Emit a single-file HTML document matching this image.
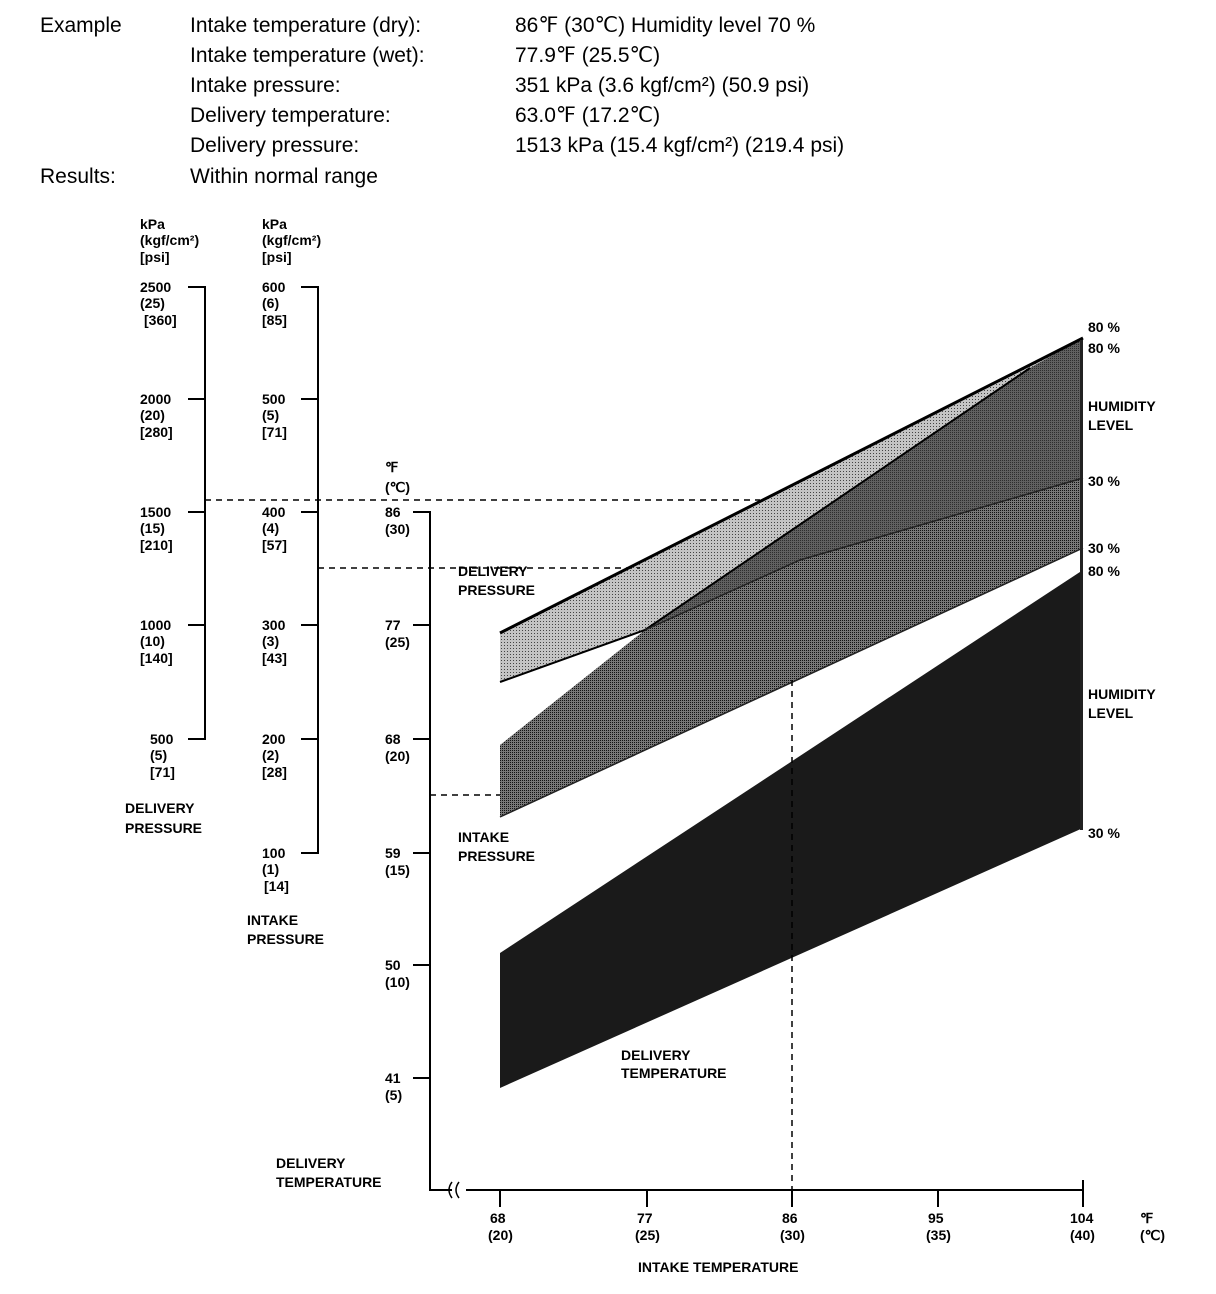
<!DOCTYPE html>
<html><head><meta charset="utf-8"><style>
html,body{margin:0;padding:0;background:#fff;}
body{width:1216px;height:1294px;position:relative;overflow:hidden;font-family:"Liberation Sans",Arial,sans-serif;}
svg{position:absolute;left:0;top:0;}
</style></head><body>
<svg width="1216" height="1294" viewBox="0 0 1216 1294" xmlns="http://www.w3.org/2000/svg" font-family="Liberation Sans, Arial, sans-serif">
<defs>
<pattern id="dots" width="3" height="3" patternUnits="userSpaceOnUse"><rect width="3" height="3" fill="#c4c4c4"/><rect width="1" height="1" fill="#444"/></pattern>
<pattern id="mid" width="2" height="2" patternUnits="userSpaceOnUse"><rect width="2" height="2" fill="#777"/><rect width="1" height="1" fill="#111"/></pattern>
</defs>
<g font-size="21" fill="#000">
<text x="40" y="32">Example</text>
<text x="190" y="32">Intake temperature (dry):</text><text x="515" y="32">86℉ (30℃) Humidity level 70 %</text>
<text x="190" y="62">Intake temperature (wet):</text><text x="515" y="62">77.9℉ (25.5℃)</text>
<text x="190" y="92">Intake pressure:</text><text x="515" y="92">351 kPa (3.6 kgf/cm²) (50.9 psi)</text>
<text x="190" y="122">Delivery temperature:</text><text x="515" y="122">63.0℉ (17.2℃)</text>
<text x="190" y="152">Delivery pressure:</text><text x="515" y="152">1513 kPa (15.4 kgf/cm²) (219.4 psi)</text>
<text x="40" y="183">Results:</text><text x="190" y="183">Within normal range</text>
</g>
<!-- bands -->
<polygon points="500,953 1083,570 1083,828 500,1088" fill="#1a1a1a"/>
<polygon points="500,633 1083,338 1030,368 645,630 500,682" fill="url(#dots)"/>
<polygon points="500,745 645,630 1030,368 1083,338 1083,548 500,817" fill="url(#mid)"/>
<polygon points="645,630 1030,368 1083,338 1083,478 800,560" fill="#4a4a4a" opacity="0.5"/>
<polyline points="500,633 1083,338" stroke="#000" stroke-width="3" fill="none"/>
<polyline points="500,682 645,630 1030,368" stroke="#000" stroke-width="2" fill="none"/>
<polyline points="645,630 800,560 1083,478" stroke="#222" stroke-width="1.5" fill="none"/>
<polyline points="500,817 1083,548" stroke="#222" stroke-width="1.5" fill="none"/>
<rect x="1080" y="340" width="3" height="490" fill="#222"/>
<!-- axes -->
<g stroke="#000" stroke-width="2" fill="none">
<path d="M188,287H205V739H188 M188,399H205 M188,512H205 M188,625H205"/>
<path d="M301,287H318V853H301 M301,399H318 M301,512H318 M301,625H318 M301,739H318"/>
<path d="M413,512H430V1190H452 M413,625H430 M413,739H430 M413,853H430 M413,965H430 M413,1078H430"/>
<path d="M466,1190H1083 M500,1190V1207 M647,1190V1207 M792,1190V1207 M938,1190V1207 M1083,1190V1207 M1083,1190V1180"/>
<path d="M452,1182q-6,8,0,16 M459,1182q-6,8,0,16" stroke-width="1.5"/>
</g>
<g stroke="#000" stroke-width="1.5" stroke-dasharray="6,5" fill="none">
<path d="M205,500H760"/><path d="M318,568H640"/><path d="M430,795H500"/><path d="M792,680V1190"/>
</g>
<g font-size="14" font-weight="bold" fill="#000">
<text x="140" y="229">kPa</text><text x="140" y="245">(kgf/cm²)</text><text x="140" y="262">[psi]</text>
<text x="262" y="229">kPa</text><text x="262" y="245">(kgf/cm²)</text><text x="262" y="262">[psi]</text>
<text x="140" y="292">2500</text><text x="140" y="308">(25)</text><text x="144" y="325">[360]</text>
<text x="140" y="404">2000</text><text x="140" y="420">(20)</text><text x="140" y="437">[280]</text>
<text x="140" y="517">1500</text><text x="140" y="533">(15)</text><text x="140" y="550">[210]</text>
<text x="140" y="630">1000</text><text x="140" y="646">(10)</text><text x="140" y="663">[140]</text>
<text x="150" y="744">500</text><text x="150" y="760">(5)</text><text x="150" y="777">[71]</text>
<text x="125" y="813">DELIVERY</text><text x="125" y="833">PRESSURE</text>
<text x="262" y="292">600</text><text x="262" y="308">(6)</text><text x="262" y="325">[85]</text>
<text x="262" y="404">500</text><text x="262" y="420">(5)</text><text x="262" y="437">[71]</text>
<text x="262" y="517">400</text><text x="262" y="533">(4)</text><text x="262" y="550">[57]</text>
<text x="262" y="630">300</text><text x="262" y="646">(3)</text><text x="262" y="663">[43]</text>
<text x="262" y="744">200</text><text x="262" y="760">(2)</text><text x="262" y="777">[28]</text>
<text x="262" y="858">100</text><text x="262" y="874">(1)</text><text x="264" y="891">[14]</text>
<text x="247" y="925">INTAKE</text><text x="247" y="944">PRESSURE</text>
<text x="385" y="472">℉</text><text x="385" y="492">(℃)</text>
<text x="385" y="517">86</text><text x="385" y="534">(30)</text>
<text x="385" y="630">77</text><text x="385" y="647">(25)</text>
<text x="385" y="744">68</text><text x="385" y="761">(20)</text>
<text x="385" y="858">59</text><text x="385" y="875">(15)</text>
<text x="385" y="970">50</text><text x="385" y="987">(10)</text>
<text x="385" y="1083">41</text><text x="385" y="1100">(5)</text>
<text x="276" y="1168">DELIVERY</text><text x="276" y="1187">TEMPERATURE</text>
<text x="458" y="576">DELIVERY</text><text x="458" y="595">PRESSURE</text>
<text x="458" y="842">INTAKE</text><text x="458" y="861">PRESSURE</text>
<text x="621" y="1060">DELIVERY</text><text x="621" y="1078">TEMPERATURE</text>
<text x="1088" y="332">80 %</text><text x="1088" y="353">80 %</text>
<text x="1088" y="411">HUMIDITY</text><text x="1088" y="430">LEVEL</text>
<text x="1088" y="486">30 %</text><text x="1088" y="553">30 %</text><text x="1088" y="576">80 %</text>
<text x="1088" y="699">HUMIDITY</text><text x="1088" y="718">LEVEL</text>
<text x="1088" y="838">30 %</text>
<text x="490" y="1223">68</text><text x="488" y="1240">(20)</text>
<text x="637" y="1223">77</text><text x="635" y="1240">(25)</text>
<text x="782" y="1223">86</text><text x="780" y="1240">(30)</text>
<text x="928" y="1223">95</text><text x="926" y="1240">(35)</text>
<text x="1070" y="1223">104</text><text x="1070" y="1240">(40)</text>
<text x="1140" y="1223">℉</text><text x="1140" y="1240">(℃)</text>
<text x="638" y="1272">INTAKE TEMPERATURE</text>
</g>
</svg>
</body></html>
